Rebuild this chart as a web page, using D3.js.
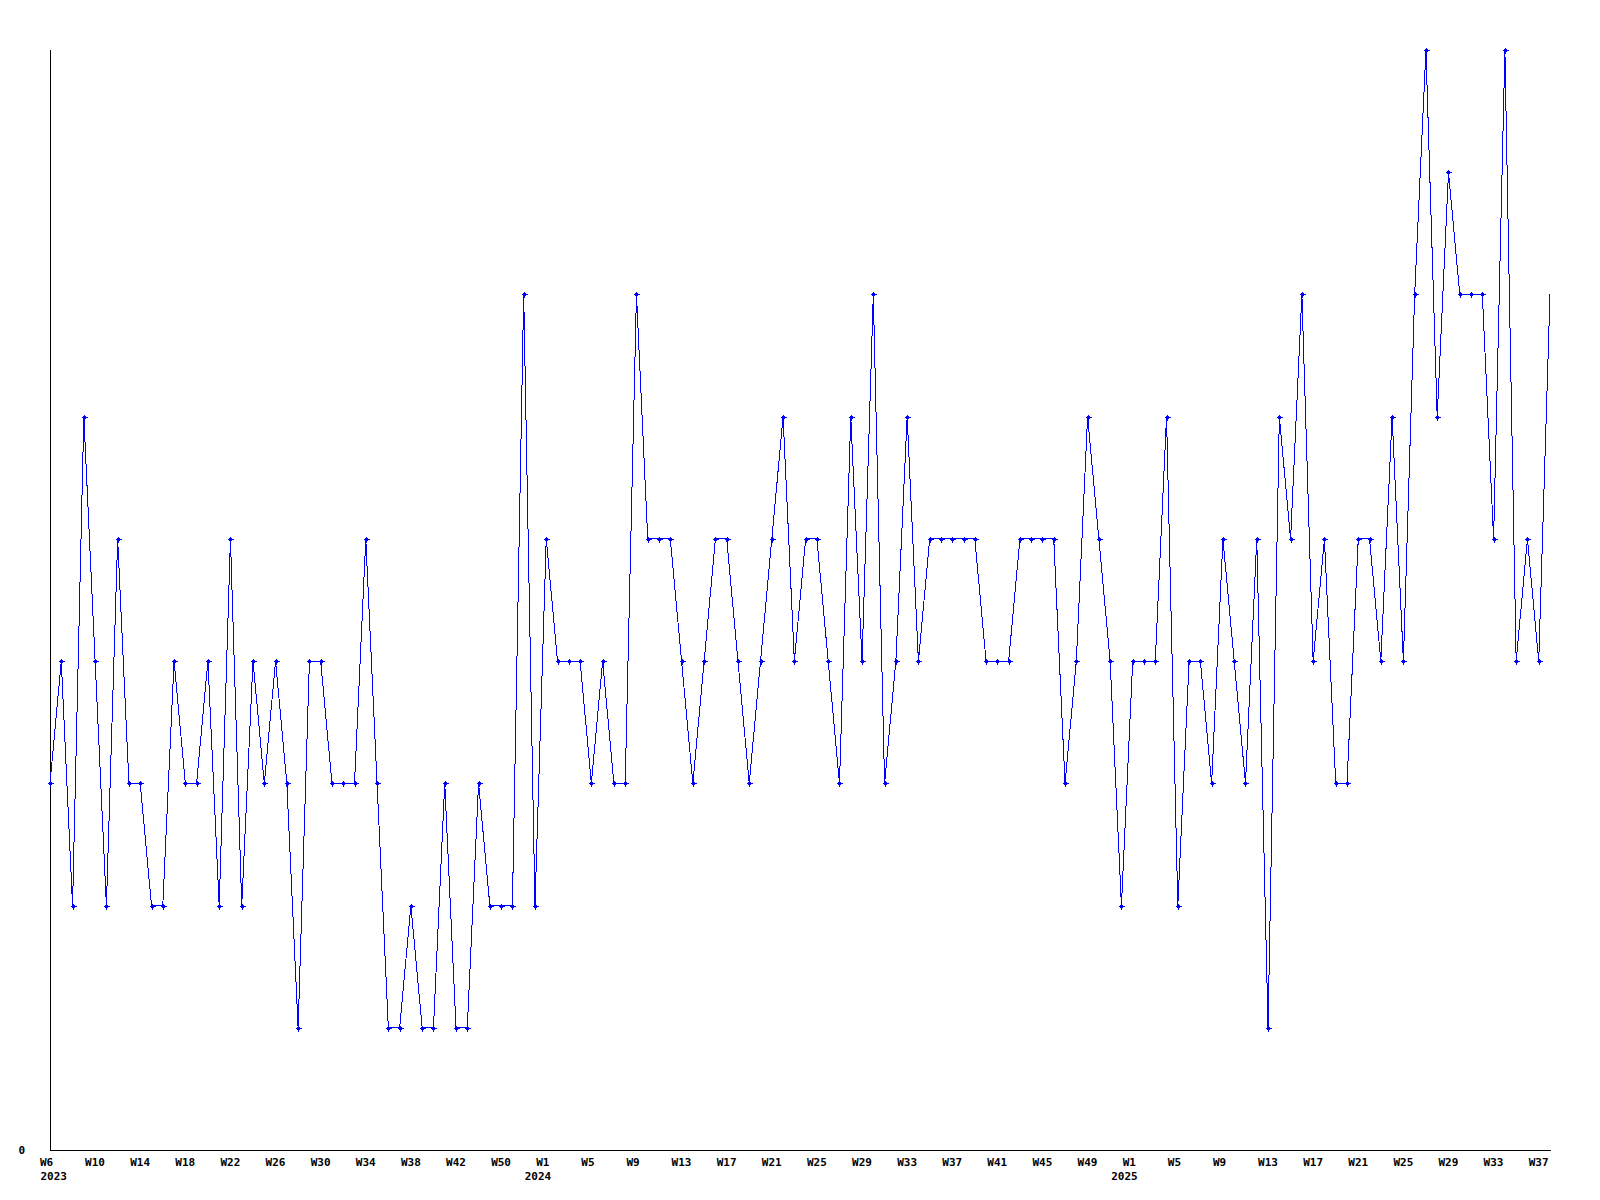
<!DOCTYPE html>
<html>
<head>
<meta charset="utf-8">
<script src="https://cdn.jsdelivr.net/npm/d3@7"></script>
<style>
  html, body { margin: 0; padding: 0; background: #fff; }
  svg { display: block; }
  .tick text, .lbl { font-family: "DejaVu Sans Mono", "Liberation Mono", monospace; font-weight: bold; font-size: 11px; fill: #000; }
</style>
</head>
<body>
<svg id="chart" width="1600" height="1200"></svg>
<script>
// ---- data ----
const weeks2023 = ["W6","W7","W8","W9","W10","W11","W12","W13","W14","W15","W16","W17","W18","W19","W20","W21","W22","W23","W24","W25","W26","W27","W28","W29","W30","W31","W32","W33","W34","W35","W36","W37","W38","W39","W40","W41","W42","W47","W48","W49","W50","W51","W52","W53"];
const weeks2024 = ["W1","W2","W3","W4","W5","W6","W7","W8","W9","W10","W11","W12","W13","W14","W15","W16","W17","W18","W19","W20","W21","W22","W23","W24","W25","W26","W27","W28","W29","W30","W31","W32","W33","W34","W35","W36","W37","W38","W39","W40","W41","W42","W43","W44","W45","W46","W47","W48","W49","W50","W51","W52"];
const weeks2025 = ["W1","W2","W3","W4","W5","W6","W7","W8","W9","W10","W11","W12","W13","W14","W15","W16","W17","W18","W19","W20","W21","W22","W23","W24","W25","W26","W27","W28","W29","W30","W31","W32","W33","W34","W35","W36","W37","W38"];
const values2023 = [3,4,2,6,4,2,5,3,3,2,2,4,3,3,4,2,5,2,4,3,4,3,1,4,4,3,3,3,5,3,1,1,2,1,1,3,1,1,3,2,2,2,7,2];
const values2024 = [5,4,4,4,3,4,3,3,7,5,5,5,4,3,4,5,5,4,3,4,5,6,4,5,5,4,3,6,4,7,3,4,6,4,5,5,5,5,5,4,4,4,5,5,5,5,3,4,6,5,4,2];
const values2025 = [4,4,4,6,2,4,4,3,5,4,3,5,1,6,5,7,4,5,3,3,5,5,4,6,4,7,9,6,8,7,7,7,5,9,4,5,4,7];
const yTickValues = [0];
const labelEvery = 4;

// ---- build table ----
const data = [];
[[2023, weeks2023, values2023], [2024, weeks2024, values2024], [2025, weeks2025, values2025]].forEach(([yr, wk, vals]) => {
  wk.forEach((w, i) => data.push({ key: yr + "-" + w, year: yr, week: w, value: vals[i] }));
});

const svg = d3.select("#chart");
const x = d3.scalePoint().domain(data.map(d => d.key)).range([50, 1550]);
const y = d3.scaleLinear().domain([0, 9]).range([1150, 50]);

// axes
const labeledKeys = data.filter((d, i) => i % labelEvery === 0).map(d => d.key);
const byKey = new Map(data.map(d => [d.key, d]));
const seenYear = new Set();

const xAxis = svg.append("g").attr("transform", "translate(0,1150)")
  .call(d3.axisBottom(x).tickValues(labeledKeys).tickSize(0).tickFormat(""));
xAxis.select(".domain").attr("stroke", "#000").attr("shape-rendering", "crispEdges").attr("d", "M50.5,0.5H1550.5");
xAxis.selectAll(".tick").each(function(k, i) {
  const d = byKey.get(k);
  d3.select(this).select("text")
    .attr("text-anchor", "start").attr("dy", null)
    .attr("x", -10.5).attr("y", 16).text(d.week);
  if (!seenYear.has(d.year)) {
    seenYear.add(d.year);
    d3.select(this).append("text").attr("class", "lbl")
      .attr("text-anchor", "start")
      .attr("x", i === 0 ? -10 : -22).attr("y", 30).text(d.year);
  }
});

const yAxis = svg.append("g").attr("transform", "translate(50,0)")
  .call(d3.axisLeft(y).tickValues(yTickValues).tickSize(0).tickPadding(25));
yAxis.select(".domain").attr("stroke", "#000").attr("shape-rendering", "crispEdges").attr("d", "M0.5,50V1150.5");
yAxis.selectAll(".tick text").attr("dy", "0.36em");

// line
const line = d3.line().x(d => x(d.key)).y(d => y(d.value));
svg.append("path").datum(data)
  .attr("fill", "none").attr("stroke", "#0000ff").attr("stroke-width", 1)
  .attr("shape-rendering", "crispEdges")
  .attr("d", line);

// markers (last point has none in the reference)
const mk = svg.append("g").attr("fill", "#0000ff").attr("stroke", "#0000ff");
mk.selectAll("path").data(data.slice(0, data.length - 1)).join("path")
  .attr("transform", d => `translate(${Math.round(x(d.key))},${Math.round(y(d.value))})`)
  .attr("stroke-width", 1)
  .attr("shape-rendering", "crispEdges")
  .attr("d", "M-2.5,0.5H3.5M0.5,-2.5V3.5M-0.5,-0.5H1.5V1.5H-0.5Z");
</script>
</body>
</html>
